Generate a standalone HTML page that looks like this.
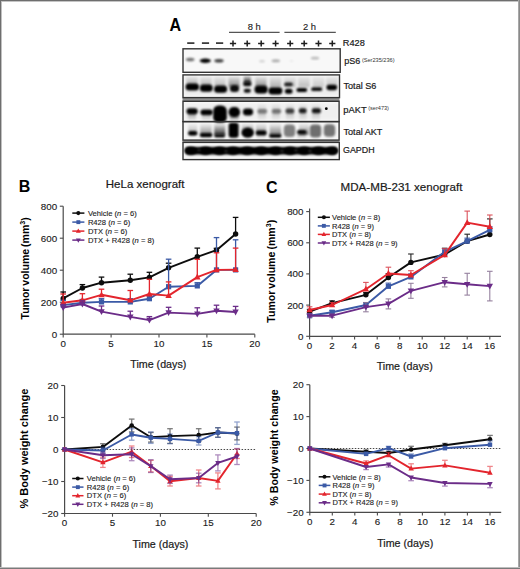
<!DOCTYPE html><html><head><meta charset="utf-8"><style>html,body{margin:0;padding:0;background:#fff;}svg{display:block;} text{stroke:#1a1a1a;stroke-width:0.2px;} text.b{stroke:none;} text.s{stroke-width:0.12px;}</style></head><body>
<svg width="520" height="569" viewBox="0 0 520 569">
<rect width="520" height="569" fill="#fff"/>
<defs><filter id="bl" x="-50%" y="-50%" width="200%" height="200%"><feGaussianBlur stdDeviation="1.0"/></filter><filter id="bl2" x="-50%" y="-50%" width="200%" height="200%"><feGaussianBlur stdDeviation="1.6"/></filter></defs>
<text transform="translate(169.6,30.9) scale(0.88,1)" font-size="18.3" font-weight="bold" class="b" fill="#000" font-family="'Liberation Sans', sans-serif">A</text>
<text class="s" x="254.3" y="30.2" font-size="9.4" text-anchor="middle" fill="#1a1a1a" font-family="'Liberation Sans', sans-serif">8 h</text>
<text class="s" x="309.5" y="30.2" font-size="9.4" text-anchor="middle" fill="#1a1a1a" font-family="'Liberation Sans', sans-serif">2 h</text>
<line x1="229" y1="32.3" x2="279.6" y2="32.3" stroke="#555" stroke-width="1.2"/>
<line x1="284.4" y1="32.3" x2="335.8" y2="32.3" stroke="#555" stroke-width="1.2"/>
<line x1="187.20000000000002" y1="43.1" x2="194.4" y2="43.1" stroke="#262626" stroke-width="1.6"/>
<line x1="201.9" y1="43.1" x2="209.1" y2="43.1" stroke="#262626" stroke-width="1.6"/>
<line x1="216.0" y1="43.1" x2="223.2" y2="43.1" stroke="#262626" stroke-width="1.6"/>
<path d="M229.9,43.4 H236.1 M233,40.6 V46.4" stroke="#1e1e1e" stroke-width="1.5"/>
<path d="M244.1,43.4 H250.29999999999998 M247.2,40.6 V46.4" stroke="#1e1e1e" stroke-width="1.5"/>
<path d="M258.09999999999997,43.4 H264.3 M261.2,40.6 V46.4" stroke="#1e1e1e" stroke-width="1.5"/>
<path d="M272.5,43.4 H278.70000000000005 M275.6,40.6 V46.4" stroke="#1e1e1e" stroke-width="1.5"/>
<path d="M287.09999999999997,43.4 H293.3 M290.2,40.6 V46.4" stroke="#1e1e1e" stroke-width="1.5"/>
<path d="M301.09999999999997,43.4 H307.3 M304.2,40.6 V46.4" stroke="#1e1e1e" stroke-width="1.5"/>
<path d="M315.4,43.4 H321.6 M318.5,40.6 V46.4" stroke="#1e1e1e" stroke-width="1.5"/>
<path d="M329.2,43.4 H335.40000000000003 M332.3,40.6 V46.4" stroke="#1e1e1e" stroke-width="1.5"/>
<text x="342.8" y="46.4" font-size="9.2" fill="#1a1a1a" font-family="'Liberation Sans', sans-serif">R428</text>
<rect x="182.5" y="97.8" width="157" height="3.2" fill="#8f8f8f"/>
<rect x="182.5" y="140.2" width="157" height="2.4" fill="#9a9a9a"/>
<rect x="183" y="48.8" width="157.2" height="23.5" fill="#f8f8f8"/>
<rect x="183" y="74.9" width="156.5" height="22.69999999999999" fill="#fafafa"/>
<rect x="183" y="101.3" width="156.10000000000002" height="20.299999999999997" fill="#fafafa"/>
<rect x="183" y="121.6" width="156.10000000000002" height="18.5" fill="#f6f6f6"/>
<rect x="183" y="142.4" width="156.3" height="17.19999999999999" fill="#f7f7f7"/>
<defs><linearGradient id="gd" x1="0" y1="0" x2="0" y2="1"><stop offset="0" stop-color="#000" stop-opacity="0"/><stop offset="1" stop-color="#000" stop-opacity="1"/></linearGradient><linearGradient id="gu" x1="0" y1="0" x2="0" y2="1"><stop offset="0" stop-color="#000" stop-opacity="1"/><stop offset="1" stop-color="#000" stop-opacity="0"/></linearGradient></defs>
<ellipse cx="190.2" cy="59.5" rx="4.3" ry="1.8" fill="#000" opacity="0.55" filter="url(#bl)"/>
<ellipse cx="205.3" cy="60.8" rx="5.6" ry="2.2" fill="#000" opacity="1.0" filter="url(#bl)"/>
<ellipse cx="219.0" cy="60.8" rx="4.7" ry="1.8" fill="#000" opacity="0.75" filter="url(#bl)"/>
<ellipse cx="262.0" cy="61.2" rx="3.0" ry="1.3" fill="#000" opacity="0.15" filter="url(#bl)"/>
<ellipse cx="275.8" cy="60.8" rx="4.2" ry="1.5" fill="#000" opacity="0.3" filter="url(#bl)"/>
<ellipse cx="291.5" cy="61.0" rx="2.0" ry="1.0" fill="#000" opacity="0.06" filter="url(#bl)"/>
<ellipse cx="315.0" cy="58.2" rx="4.2" ry="1.4" fill="#000" opacity="0.25" filter="url(#bl)"/>
<rect x="184" y="76" width="155" height="20" fill="#000" opacity="0.05" filter="url(#bl2)"/>
<rect x="186.5" y="75.5" width="11.0" height="11.5" fill="url(#gd)" opacity="0.3" filter="url(#bl)"/>
<rect x="200.5" y="75.5" width="11.0" height="11.5" fill="url(#gd)" opacity="0.25" filter="url(#bl)"/>
<rect x="214.5" y="75.5" width="11.0" height="11.5" fill="url(#gd)" opacity="0.22" filter="url(#bl)"/>
<rect x="228.5" y="75.5" width="11.0" height="11.5" fill="url(#gd)" opacity="0.45" filter="url(#bl)"/>
<rect x="255.5" y="75.5" width="11.0" height="11.5" fill="url(#gd)" opacity="0.4" filter="url(#bl)"/>
<rect x="270.0" y="75.5" width="11.0" height="11.5" fill="url(#gd)" opacity="0.25" filter="url(#bl)"/>
<rect x="284.5" y="75.5" width="11.0" height="11.5" fill="url(#gd)" opacity="0.2" filter="url(#bl)"/>
<rect x="298.5" y="75.5" width="11.0" height="11.5" fill="url(#gd)" opacity="0.2" filter="url(#bl)"/>
<rect x="313.0" y="75.5" width="11.0" height="11.5" fill="url(#gd)" opacity="0.15" filter="url(#bl)"/>
<rect x="326.5" y="75.5" width="11.0" height="11.5" fill="url(#gd)" opacity="0.18" filter="url(#bl)"/>
<rect x="185.6" y="83.4" width="13.4" height="7.0" rx="3.5" fill="#000" opacity="1" filter="url(#bl)"/>
<rect x="199.9" y="84.6" width="12.8" height="7.2" rx="3.6" fill="#000" opacity="1" filter="url(#bl)"/>
<rect x="214.1" y="85.6" width="13.0" height="7.2" rx="3.6" fill="#000" opacity="1" filter="url(#bl)"/>
<rect x="229.9" y="85.1" width="9.2" height="7.0" rx="3.5" fill="#000" opacity="0.95" filter="url(#bl)"/>
<rect x="243.8" y="75.0" width="7.0" height="8.0" fill="url(#gd)" opacity="0.85" filter="url(#bl)"/>
<rect x="243.1" y="81.8" width="8.4" height="4.4" rx="2.2" fill="#000" opacity="0.95" filter="url(#bl)"/>
<rect x="243.8" y="88.8" width="7.0" height="4.0" rx="2.0" fill="#000" opacity="0.95" filter="url(#bl)"/>
<rect x="254.5" y="85.6" width="13.2" height="8.0" rx="4.0" fill="#000" opacity="1" filter="url(#bl)"/>
<rect x="268.4" y="87.2" width="14.0" height="7.2" rx="3.6" fill="#000" opacity="1" filter="url(#bl)"/>
<rect x="284.2" y="82.4" width="8.6" height="3.8" rx="1.9" fill="#000" opacity="0.85" filter="url(#bl)"/>
<rect x="284.9" y="88.8" width="7.6" height="5.0" rx="2.5" fill="#000" opacity="1" filter="url(#bl)"/>
<rect x="296.4" y="87.9" width="10.8" height="4.2" rx="2.1" fill="#000" opacity="1" filter="url(#bl)"/>
<rect x="311.2" y="87.3" width="11.0" height="3.8" rx="1.9" fill="#000" opacity="0.95" filter="url(#bl)"/>
<rect x="326.5" y="84.7" width="10.6" height="5.6" rx="2.8" fill="#000" opacity="1" filter="url(#bl)"/>
<rect x="184" y="103" width="155" height="17" fill="#000" opacity="0.04" filter="url(#bl2)"/>
<rect x="188.0" y="112.0" width="8.0" height="9.0" fill="url(#gu)" opacity="0.4" filter="url(#bl)"/>
<rect x="202.0" y="112.0" width="9.0" height="9.0" fill="url(#gu)" opacity="0.35" filter="url(#bl)"/>
<rect x="230.3" y="112.0" width="8.0" height="9.0" fill="url(#gu)" opacity="0.35" filter="url(#bl)"/>
<rect x="258.0" y="112.0" width="8.0" height="9.0" fill="url(#gu)" opacity="0.18" filter="url(#bl)"/>
<rect x="272.0" y="112.0" width="8.0" height="9.0" fill="url(#gu)" opacity="0.18" filter="url(#bl)"/>
<rect x="286.0" y="112.0" width="8.0" height="9.0" fill="url(#gu)" opacity="0.2" filter="url(#bl)"/>
<rect x="299.5" y="112.0" width="7.0" height="9.0" fill="url(#gu)" opacity="0.2" filter="url(#bl)"/>
<rect x="312.0" y="112.0" width="8.0" height="9.0" fill="url(#gu)" opacity="0.2" filter="url(#bl)"/>
<rect x="258.0" y="103.0" width="8.0" height="8.0" fill="url(#gd)" opacity="0.12" filter="url(#bl)"/>
<rect x="272.0" y="103.0" width="8.0" height="8.0" fill="url(#gd)" opacity="0.12" filter="url(#bl)"/>
<rect x="286.0" y="103.0" width="8.0" height="8.0" fill="url(#gd)" opacity="0.12" filter="url(#bl)"/>
<rect x="299.0" y="103.0" width="8.0" height="8.0" fill="url(#gd)" opacity="0.12" filter="url(#bl)"/>
<rect x="312.0" y="103.0" width="8.0" height="8.0" fill="url(#gd)" opacity="0.12" filter="url(#bl)"/>
<rect x="186.5" y="108.3" width="11.2" height="6.0" rx="3.0" fill="#000" opacity="1" filter="url(#bl)"/>
<rect x="200.5" y="109.5" width="12.2" height="5.6" rx="2.8" fill="#000" opacity="1" filter="url(#bl)"/>
<rect x="213.2" y="105.5" width="13.6" height="17.0" rx="5.5" fill="#000" opacity="1" filter="url(#bl)"/>
<rect x="214.5" y="117.0" width="11.0" height="6.5" fill="url(#gu)" opacity="0.6" filter="url(#bl)"/>
<rect x="229.8" y="115.0" width="9.0" height="6.5" fill="url(#gu)" opacity="0.35" filter="url(#bl)"/>
<rect x="228.5" y="106.9" width="11.6" height="10.2" rx="5.1" fill="#000" opacity="1" filter="url(#bl)"/>
<rect x="242.9" y="108.6" width="10.2" height="6.8" rx="3.4" fill="#000" opacity="1" filter="url(#bl)"/>
<rect x="257.4" y="108.9" width="9.8" height="4.6" rx="2.3" fill="#000" opacity="0.45" filter="url(#bl)"/>
<rect x="271.8" y="108.9" width="9.4" height="4.6" rx="2.3" fill="#000" opacity="0.48" filter="url(#bl)"/>
<rect x="285.5" y="108.5" width="8.8" height="5.0" rx="2.5" fill="#000" opacity="0.72" filter="url(#bl)"/>
<rect x="298.8" y="108.3" width="7.8" height="5.0" rx="2.5" fill="#000" opacity="0.87" filter="url(#bl)"/>
<rect x="311.8" y="108.3" width="9.2" height="5.0" rx="2.5" fill="#000" opacity="0.9" filter="url(#bl)"/>
<circle cx="326.3" cy="108.7" r="1.4" fill="#000"/>
<rect x="188.2" y="123.0" width="9.0" height="12.0" fill="url(#gd)" opacity="0.3" filter="url(#bl)"/>
<rect x="200.2" y="123.0" width="11.5" height="12.0" fill="url(#gd)" opacity="0.45" filter="url(#bl)"/>
<rect x="214.2" y="123.0" width="11.0" height="12.0" fill="url(#gd)" opacity="0.8" filter="url(#bl)"/>
<rect x="241.9" y="123.0" width="11.5" height="12.0" fill="url(#gd)" opacity="0.55" filter="url(#bl)"/>
<rect x="255.9" y="123.0" width="10.5" height="12.0" fill="url(#gd)" opacity="0.45" filter="url(#bl)"/>
<rect x="269.6" y="123.0" width="11.5" height="12.0" fill="url(#gd)" opacity="0.5" filter="url(#bl)"/>
<rect x="299.0" y="123.0" width="10.0" height="12.0" fill="url(#gd)" opacity="0.45" filter="url(#bl)"/>
<rect x="188.2" y="131.0" width="9.0" height="4.6" rx="2.3" fill="#000" opacity="1" filter="url(#bl)"/>
<rect x="199.9" y="133.1" width="12.4" height="4.2" rx="2.1" fill="#000" opacity="1" filter="url(#bl)"/>
<rect x="214.2" y="134.0" width="11.0" height="3.6" rx="1.8" fill="#000" opacity="0.95" filter="url(#bl)"/>
<rect x="228.6" y="122.7" width="10.0" height="15.0" rx="3.0" fill="#000" opacity="1" filter="url(#bl)"/>
<ellipse cx="247.7" cy="132.6" rx="6.0" ry="5.2" fill="#000" opacity="1" filter="url(#bl)"/>
<rect x="255.9" y="130.6" width="10.6" height="4.4" rx="2.2" fill="#000" opacity="1" filter="url(#bl)"/>
<rect x="269.1" y="133.9" width="12.4" height="3.8" rx="1.9" fill="#000" opacity="1" filter="url(#bl)"/>
<rect x="283.8" y="124.6" width="11.4" height="12.5" rx="4.0" fill="#000" opacity="0.48" filter="url(#bl)"/>
<rect x="297.0" y="130.1" width="9.6" height="4.2" rx="2.1" fill="#000" opacity="0.95" filter="url(#bl)"/>
<rect x="309.8" y="124.5" width="11.4" height="13.0" rx="4.0" fill="#000" opacity="0.55" filter="url(#bl)"/>
<rect x="323.8" y="124.3" width="11.4" height="12.5" rx="4.0" fill="#000" opacity="0.52" filter="url(#bl)"/>
<rect x="256.7" y="134.0" width="9.0" height="5.0" fill="url(#gu)" opacity="0.3" filter="url(#bl)"/>
<rect x="297.3" y="134.0" width="9.0" height="5.0" fill="url(#gu)" opacity="0.3" filter="url(#bl)"/>
<rect x="185.3" y="147.0" width="151.5" height="7.4" rx="3.2" fill="#000" filter="url(#bl)"/>
<ellipse cx="190.8" cy="150.7" rx="6.2" ry="4.0" fill="#000" opacity="1" filter="url(#bl)"/>
<ellipse cx="205.5" cy="150.7" rx="6.2" ry="4.0" fill="#000" opacity="1" filter="url(#bl)"/>
<ellipse cx="219.6" cy="150.7" rx="6.2" ry="4.0" fill="#000" opacity="1" filter="url(#bl)"/>
<ellipse cx="233.0" cy="150.7" rx="6.2" ry="4.0" fill="#000" opacity="1" filter="url(#bl)"/>
<ellipse cx="247.2" cy="150.7" rx="6.2" ry="4.0" fill="#000" opacity="1" filter="url(#bl)"/>
<ellipse cx="261.2" cy="150.7" rx="6.2" ry="4.0" fill="#000" opacity="1" filter="url(#bl)"/>
<ellipse cx="275.6" cy="150.7" rx="6.2" ry="4.0" fill="#000" opacity="1" filter="url(#bl)"/>
<ellipse cx="290.2" cy="150.7" rx="6.2" ry="4.0" fill="#000" opacity="1" filter="url(#bl)"/>
<ellipse cx="304.2" cy="150.7" rx="6.2" ry="4.0" fill="#000" opacity="1" filter="url(#bl)"/>
<ellipse cx="318.5" cy="150.7" rx="6.2" ry="4.0" fill="#000" opacity="1" filter="url(#bl)"/>
<ellipse cx="332.3" cy="150.7" rx="6.2" ry="4.0" fill="#000" opacity="1" filter="url(#bl)"/>
<ellipse cx="199" cy="150.1" rx="1.6" ry="0.9" fill="#fff" opacity="0.25" filter="url(#bl)"/>
<ellipse cx="226" cy="151.1" rx="1.6" ry="0.9" fill="#fff" opacity="0.25" filter="url(#bl)"/>
<ellipse cx="282" cy="150.9" rx="1.6" ry="0.9" fill="#fff" opacity="0.25" filter="url(#bl)"/>
<ellipse cx="296" cy="150.3" rx="1.6" ry="0.9" fill="#fff" opacity="0.25" filter="url(#bl)"/>
<ellipse cx="310" cy="151.0" rx="1.6" ry="0.9" fill="#fff" opacity="0.25" filter="url(#bl)"/>
<rect x="183" y="48.8" width="157.2" height="23.5" fill="none" stroke="#333" stroke-width="1.4"/>
<rect x="183" y="74.9" width="156.5" height="22.69999999999999" fill="none" stroke="#333" stroke-width="1.4"/>
<rect x="183" y="101.3" width="156.10000000000002" height="20.299999999999997" fill="none" stroke="#333" stroke-width="1.4"/>
<rect x="183" y="121.6" width="156.10000000000002" height="18.5" fill="none" stroke="#333" stroke-width="1.4"/>
<rect x="183" y="142.4" width="156.3" height="17.19999999999999" fill="none" stroke="#333" stroke-width="1.4"/>
<text x="344.3" y="64.3" font-size="9.0" fill="#1a1a1a" font-family="'Liberation Sans', sans-serif">pS6<tspan font-size="5.6" dy="-2.2" dx="1.6" style="stroke:none" fill="#333">(Ser235/236)</tspan></text>
<text x="343.5" y="88.8" font-size="9.1" fill="#1a1a1a" font-family="'Liberation Sans', sans-serif">Total S6</text>
<text x="343.2" y="112.9" font-size="9.4" fill="#1a1a1a" font-family="'Liberation Sans', sans-serif">pAKT<tspan font-size="5.6" dy="-2.6" dx="1.5" style="stroke:none" fill="#333">(ser473)</tspan></text>
<text x="343.5" y="135" font-size="9.1" fill="#1a1a1a" font-family="'Liberation Sans', sans-serif">Total AKT</text>
<text x="343" y="153.1" font-size="8.9" fill="#1a1a1a" font-family="'Liberation Sans', sans-serif">GAPDH</text>
<text x="18.8" y="192.3" font-size="16" font-weight="bold" class="b" fill="#000" font-family="'Liberation Sans', sans-serif">B</text>
<text x="266" y="193" font-size="16" font-weight="bold" class="b" fill="#000" font-family="'Liberation Sans', sans-serif">C</text>
<text x="105.8" y="188.4" font-size="11.5" fill="#1a1a1a" font-family="'Liberation Sans', sans-serif">HeLa xenograft</text>
<text x="340.6" y="190.8" font-size="11.6" fill="#1a1a1a" font-family="'Liberation Sans', sans-serif">MDA-MB-231 xenograft</text>
<text transform="translate(29,268.4) rotate(-90)" font-size="10.5" font-weight="bold" class="b" word-spacing="-1" text-anchor="middle" fill="#000" font-family="'Liberation Sans', sans-serif">Tumor volume (mm<tspan font-size="7" dy="-4">3</tspan><tspan dy="4">)</tspan></text>
<text transform="translate(27.7,448.6) rotate(-90)" font-size="11" font-weight="bold" class="b" word-spacing="0" text-anchor="middle" fill="#000" font-family="'Liberation Sans', sans-serif">% Body weight change</text>
<text transform="translate(274.8,271.3) rotate(-90)" font-size="10.6" font-weight="bold" class="b" word-spacing="-1" text-anchor="middle" fill="#000" font-family="'Liberation Sans', sans-serif">Tumor volume (mm<tspan font-size="7" dy="-4">3</tspan><tspan dy="4">)</tspan></text>
<text transform="translate(278.3,447.6) rotate(-90)" font-size="10.7" font-weight="bold" class="b" word-spacing="0" text-anchor="middle" fill="#000" font-family="'Liberation Sans', sans-serif">% Body weight change</text>
<text x="158.3" y="367.8" font-size="10.7" text-anchor="middle" fill="#1a1a1a" font-family="'Liberation Sans', sans-serif">Time (days)</text>
<text x="160.4" y="547.5" font-size="10.7" text-anchor="middle" fill="#1a1a1a" font-family="'Liberation Sans', sans-serif">Time (days)</text>
<text x="404.7" y="370.2" font-size="10.7" text-anchor="middle" fill="#1a1a1a" font-family="'Liberation Sans', sans-serif">Time (days)</text>
<text x="405.2" y="546.5" font-size="10.7" text-anchor="middle" fill="#1a1a1a" font-family="'Liberation Sans', sans-serif">Time (days)</text>
<path d="M63.2,206.2 V334.2 H254.8" fill="none" stroke="#4a4a4a" stroke-width="1.2"/>
<line x1="59.8" y1="334.2" x2="63.2" y2="334.2" stroke="#4a4a4a" stroke-width="1.1"/>
<text class="s" x="57.1" y="337.7" font-size="9.8" text-anchor="end" fill="#1a1a1a" font-family="'Liberation Sans', sans-serif">0</text>
<line x1="59.8" y1="302.2" x2="63.2" y2="302.2" stroke="#4a4a4a" stroke-width="1.1"/>
<text class="s" x="57.1" y="305.7" font-size="9.8" text-anchor="end" fill="#1a1a1a" font-family="'Liberation Sans', sans-serif">200</text>
<line x1="59.8" y1="270.2" x2="63.2" y2="270.2" stroke="#4a4a4a" stroke-width="1.1"/>
<text class="s" x="57.1" y="273.7" font-size="9.8" text-anchor="end" fill="#1a1a1a" font-family="'Liberation Sans', sans-serif">400</text>
<line x1="59.8" y1="238.2" x2="63.2" y2="238.2" stroke="#4a4a4a" stroke-width="1.1"/>
<text class="s" x="57.1" y="241.7" font-size="9.8" text-anchor="end" fill="#1a1a1a" font-family="'Liberation Sans', sans-serif">600</text>
<line x1="59.8" y1="206.2" x2="63.2" y2="206.2" stroke="#4a4a4a" stroke-width="1.1"/>
<text class="s" x="57.1" y="209.7" font-size="9.8" text-anchor="end" fill="#1a1a1a" font-family="'Liberation Sans', sans-serif">800</text>
<line x1="63.2" y1="334.2" x2="63.2" y2="337.4" stroke="#4a4a4a" stroke-width="1.1"/>
<text class="s" x="63.2" y="346.8" font-size="9.8" text-anchor="middle" fill="#1a1a1a" font-family="'Liberation Sans', sans-serif">0</text>
<line x1="111.1" y1="334.2" x2="111.1" y2="337.4" stroke="#4a4a4a" stroke-width="1.1"/>
<text class="s" x="111.1" y="346.8" font-size="9.8" text-anchor="middle" fill="#1a1a1a" font-family="'Liberation Sans', sans-serif">5</text>
<line x1="159.0" y1="334.2" x2="159.0" y2="337.4" stroke="#4a4a4a" stroke-width="1.1"/>
<text class="s" x="159.0" y="346.8" font-size="9.8" text-anchor="middle" fill="#1a1a1a" font-family="'Liberation Sans', sans-serif">10</text>
<line x1="206.9" y1="334.2" x2="206.9" y2="337.4" stroke="#4a4a4a" stroke-width="1.1"/>
<text class="s" x="206.9" y="346.8" font-size="9.8" text-anchor="middle" fill="#1a1a1a" font-family="'Liberation Sans', sans-serif">15</text>
<line x1="254.8" y1="334.2" x2="254.8" y2="337.4" stroke="#4a4a4a" stroke-width="1.1"/>
<text class="s" x="254.8" y="346.8" font-size="9.8" text-anchor="middle" fill="#1a1a1a" font-family="'Liberation Sans', sans-serif">20</text>
<polyline points="63.2,298.4 82.4,288.0 101.5,282.7 130.3,280.3 149.4,277.4 168.6,267.8 197.3,256.8 216.5,250.2 235.6,234.0" fill="none" stroke="#0d0d0d" stroke-width="1.9" stroke-linejoin="round"/>
<g stroke="#0d0d0d" stroke-width="1.3" opacity="1"><line x1="63.2" y1="298.4" x2="63.2" y2="292.0"/><line x1="60.4" y1="292.0" x2="66.0" y2="292.0"/></g>
<g stroke="#0d0d0d" stroke-width="1.3" opacity="1"><line x1="82.4" y1="288.0" x2="82.4" y2="284.6"/><line x1="79.6" y1="284.6" x2="85.2" y2="284.6"/></g>
<g stroke="#0d0d0d" stroke-width="1.3" opacity="1"><line x1="101.5" y1="282.7" x2="101.5" y2="277.1"/><line x1="98.7" y1="277.1" x2="104.3" y2="277.1"/></g>
<g stroke="#0d0d0d" stroke-width="1.3" opacity="1"><line x1="130.3" y1="280.3" x2="130.3" y2="274.2"/><line x1="127.5" y1="274.2" x2="133.1" y2="274.2"/></g>
<g stroke="#0d0d0d" stroke-width="1.3" opacity="1"><line x1="149.4" y1="277.4" x2="149.4" y2="272.3"/><line x1="146.6" y1="272.3" x2="152.2" y2="272.3"/></g>
<g stroke="#0d0d0d" stroke-width="1.3" opacity="1"><line x1="168.6" y1="267.8" x2="168.6" y2="263.2"/><line x1="165.8" y1="263.2" x2="171.4" y2="263.2"/></g>
<g stroke="#0d0d0d" stroke-width="1.3" opacity="1"><line x1="197.3" y1="256.8" x2="197.3" y2="248.1"/><line x1="194.5" y1="248.1" x2="200.1" y2="248.1"/></g>
<g stroke="#0d0d0d" stroke-width="1.3" opacity="1"><line x1="216.5" y1="250.2" x2="216.5" y2="248.3"/><line x1="213.7" y1="248.3" x2="219.3" y2="248.3"/></g>
<g stroke="#0d0d0d" stroke-width="1.3" opacity="1"><line x1="235.6" y1="234.0" x2="235.6" y2="217.4"/><line x1="232.8" y1="217.4" x2="238.4" y2="217.4"/></g>
<circle cx="63.2" cy="298.4" r="2.70" fill="#0d0d0d"/>
<circle cx="82.4" cy="288.0" r="2.70" fill="#0d0d0d"/>
<circle cx="101.5" cy="282.7" r="2.70" fill="#0d0d0d"/>
<circle cx="130.3" cy="280.3" r="2.70" fill="#0d0d0d"/>
<circle cx="149.4" cy="277.4" r="2.70" fill="#0d0d0d"/>
<circle cx="168.6" cy="267.8" r="2.70" fill="#0d0d0d"/>
<circle cx="197.3" cy="256.8" r="2.70" fill="#0d0d0d"/>
<circle cx="216.5" cy="250.2" r="2.70" fill="#0d0d0d"/>
<circle cx="235.6" cy="234.0" r="2.70" fill="#0d0d0d"/>
<polyline points="63.2,305.1 82.4,302.7 101.5,301.9 130.3,301.9 149.4,298.7 168.6,286.7 197.3,285.9 216.5,269.9 235.6,269.9" fill="none" stroke="#3b5aa6" stroke-width="1.9" stroke-linejoin="round"/>
<g stroke="#3b5aa6" stroke-width="1.3" opacity="1"><line x1="63.2" y1="305.1" x2="63.2" y2="300.3"/><line x1="60.4" y1="300.3" x2="66.0" y2="300.3"/></g>
<g stroke="#3b5aa6" stroke-width="1.3" opacity="1"><line x1="82.4" y1="302.7" x2="82.4" y2="299.5"/><line x1="79.6" y1="299.5" x2="85.2" y2="299.5"/></g>
<g stroke="#3b5aa6" stroke-width="1.3" opacity="1"><line x1="101.5" y1="301.9" x2="101.5" y2="298.7"/><line x1="98.7" y1="298.7" x2="104.3" y2="298.7"/></g>
<g stroke="#3b5aa6" stroke-width="1.3" opacity="1"><line x1="130.3" y1="301.9" x2="130.3" y2="298.7"/><line x1="127.5" y1="298.7" x2="133.1" y2="298.7"/></g>
<g stroke="#3b5aa6" stroke-width="1.3" opacity="1"><line x1="149.4" y1="298.7" x2="149.4" y2="295.5"/><line x1="146.6" y1="295.5" x2="152.2" y2="295.5"/></g>
<g stroke="#3b5aa6" stroke-width="1.3" opacity="1"><line x1="168.6" y1="286.7" x2="168.6" y2="259.2"/><line x1="165.8" y1="259.2" x2="171.4" y2="259.2"/></g>
<g stroke="#3b5aa6" stroke-width="1.3" opacity="1"><line x1="197.3" y1="285.9" x2="197.3" y2="282.7"/><line x1="194.5" y1="282.7" x2="200.1" y2="282.7"/></g>
<g stroke="#3b5aa6" stroke-width="1.3" opacity="1"><line x1="216.5" y1="269.9" x2="216.5" y2="237.6"/><line x1="213.7" y1="237.6" x2="219.3" y2="237.6"/></g>
<g stroke="#3b5aa6" stroke-width="1.3" opacity="1"><line x1="235.6" y1="269.9" x2="235.6" y2="239.8"/><line x1="232.8" y1="239.8" x2="238.4" y2="239.8"/></g>
<rect x="60.6" y="302.5" width="5.2" height="5.2" fill="#3b5aa6"/>
<rect x="79.8" y="300.1" width="5.2" height="5.2" fill="#3b5aa6"/>
<rect x="98.9" y="299.3" width="5.2" height="5.2" fill="#3b5aa6"/>
<rect x="127.7" y="299.3" width="5.2" height="5.2" fill="#3b5aa6"/>
<rect x="146.8" y="296.1" width="5.2" height="5.2" fill="#3b5aa6"/>
<rect x="166.0" y="284.1" width="5.2" height="5.2" fill="#3b5aa6"/>
<rect x="194.7" y="283.3" width="5.2" height="5.2" fill="#3b5aa6"/>
<rect x="213.9" y="267.3" width="5.2" height="5.2" fill="#3b5aa6"/>
<rect x="233.0" y="267.3" width="5.2" height="5.2" fill="#3b5aa6"/>
<polyline points="63.2,302.7 82.4,300.3 101.5,294.8 130.3,300.3 149.4,294.0 168.6,295.6 197.3,277.1 216.5,269.9 235.6,269.6" fill="none" stroke="#e3252d" stroke-width="1.9" stroke-linejoin="round"/>
<g stroke="#e3252d" stroke-width="1.3" opacity="1"><line x1="63.2" y1="302.7" x2="63.2" y2="294.0"/><line x1="60.4" y1="294.0" x2="66.0" y2="294.0"/></g>
<g stroke="#e3252d" stroke-width="1.3" opacity="1"><line x1="82.4" y1="300.3" x2="82.4" y2="293.7"/><line x1="79.6" y1="293.7" x2="85.2" y2="293.7"/></g>
<g stroke="#e3252d" stroke-width="1.3" opacity="1"><line x1="101.5" y1="294.8" x2="101.5" y2="289.2"/><line x1="98.7" y1="289.2" x2="104.3" y2="289.2"/></g>
<g stroke="#e3252d" stroke-width="1.3" opacity="1"><line x1="130.3" y1="300.3" x2="130.3" y2="290.5"/><line x1="127.5" y1="290.5" x2="133.1" y2="290.5"/></g>
<g stroke="#e3252d" stroke-width="1.3" opacity="1"><line x1="149.4" y1="294.0" x2="149.4" y2="279.3"/><line x1="146.6" y1="279.3" x2="152.2" y2="279.3"/></g>
<g stroke="#e3252d" stroke-width="1.3" opacity="1"><line x1="168.6" y1="295.6" x2="168.6" y2="281.9"/><line x1="165.8" y1="281.9" x2="171.4" y2="281.9"/></g>
<g stroke="#e3252d" stroke-width="1.3" opacity="1"><line x1="197.3" y1="277.1" x2="197.3" y2="259.3"/><line x1="194.5" y1="259.3" x2="200.1" y2="259.3"/></g>
<g stroke="#e3252d" stroke-width="1.3" opacity="1"><line x1="216.5" y1="269.9" x2="216.5" y2="252.8"/><line x1="213.7" y1="252.8" x2="219.3" y2="252.8"/></g>
<g stroke="#e3252d" stroke-width="1.3" opacity="1"><line x1="235.6" y1="269.6" x2="235.6" y2="248.1"/><line x1="232.8" y1="248.1" x2="238.4" y2="248.1"/></g>
<polygon points="60.0,305.0 66.4,305.0 63.2,299.2" fill="#e3252d"/>
<polygon points="79.2,302.6 85.6,302.6 82.4,296.8" fill="#e3252d"/>
<polygon points="98.3,297.2 104.7,297.2 101.5,291.4" fill="#e3252d"/>
<polygon points="127.1,302.6 133.5,302.6 130.3,296.8" fill="#e3252d"/>
<polygon points="146.2,296.4 152.6,296.4 149.4,290.6" fill="#e3252d"/>
<polygon points="165.4,298.0 171.8,298.0 168.6,292.2" fill="#e3252d"/>
<polygon points="194.1,279.4 200.5,279.4 197.3,273.6" fill="#e3252d"/>
<polygon points="213.3,272.2 219.7,272.2 216.5,266.4" fill="#e3252d"/>
<polygon points="232.4,271.9 238.8,271.9 235.6,266.1" fill="#e3252d"/>
<polyline points="63.2,307.6 82.4,304.0 101.5,311.6 130.3,316.9 149.4,320.1 168.6,312.6 197.3,313.9 216.5,310.8 235.6,312.0" fill="none" stroke="#6b2c88" stroke-width="1.9" stroke-linejoin="round"/>
<g stroke="#6b2c88" stroke-width="1.3" opacity="1"><line x1="63.2" y1="307.6" x2="63.2" y2="304.4"/><line x1="60.4" y1="304.4" x2="66.0" y2="304.4"/></g>
<g stroke="#6b2c88" stroke-width="1.3" opacity="1"><line x1="82.4" y1="304.0" x2="82.4" y2="300.8"/><line x1="79.6" y1="300.8" x2="85.2" y2="300.8"/></g>
<g stroke="#6b2c88" stroke-width="1.3" opacity="1"><line x1="101.5" y1="311.6" x2="101.5" y2="306.0"/><line x1="98.7" y1="306.0" x2="104.3" y2="306.0"/></g>
<g stroke="#6b2c88" stroke-width="1.3" opacity="1"><line x1="130.3" y1="316.9" x2="130.3" y2="311.2"/><line x1="127.5" y1="311.2" x2="133.1" y2="311.2"/></g>
<g stroke="#6b2c88" stroke-width="1.3" opacity="1"><line x1="149.4" y1="320.1" x2="149.4" y2="316.6"/><line x1="146.6" y1="316.6" x2="152.2" y2="316.6"/></g>
<g stroke="#6b2c88" stroke-width="1.3" opacity="1"><line x1="168.6" y1="312.6" x2="168.6" y2="307.3"/><line x1="165.8" y1="307.3" x2="171.4" y2="307.3"/></g>
<g stroke="#6b2c88" stroke-width="1.3" opacity="1"><line x1="197.3" y1="313.9" x2="197.3" y2="307.8"/><line x1="194.5" y1="307.8" x2="200.1" y2="307.8"/></g>
<g stroke="#6b2c88" stroke-width="1.3" opacity="1"><line x1="216.5" y1="310.8" x2="216.5" y2="305.2"/><line x1="213.7" y1="305.2" x2="219.3" y2="305.2"/></g>
<g stroke="#6b2c88" stroke-width="1.3" opacity="1"><line x1="235.6" y1="312.0" x2="235.6" y2="306.4"/><line x1="232.8" y1="306.4" x2="238.4" y2="306.4"/></g>
<polygon points="60.0,305.3 66.4,305.3 63.2,311.1" fill="#6b2c88"/>
<polygon points="79.2,301.6 85.6,301.6 82.4,307.4" fill="#6b2c88"/>
<polygon points="98.3,309.3 104.7,309.3 101.5,315.1" fill="#6b2c88"/>
<polygon points="127.1,314.6 133.5,314.6 130.3,320.4" fill="#6b2c88"/>
<polygon points="146.2,317.8 152.6,317.8 149.4,323.6" fill="#6b2c88"/>
<polygon points="165.4,310.3 171.8,310.3 168.6,316.1" fill="#6b2c88"/>
<polygon points="194.1,311.6 200.5,311.6 197.3,317.4" fill="#6b2c88"/>
<polygon points="213.3,308.5 219.7,308.5 216.5,314.3" fill="#6b2c88"/>
<polygon points="232.4,309.6 238.8,309.6 235.6,315.4" fill="#6b2c88"/>
<line x1="72.3" y1="213.1" x2="84.4" y2="213.1" stroke="#0d0d0d" stroke-width="1.5"/>
<circle cx="78.3" cy="213.1" r="2.03" fill="#0d0d0d"/>
<text class="s" x="87.9" y="215.8" font-size="7.6" fill="#1a1a1a" font-family="'Liberation Sans', sans-serif">Vehicle (<tspan font-style="italic">n</tspan> = 6)</text>
<line x1="72.3" y1="222.1" x2="84.4" y2="222.1" stroke="#3b5aa6" stroke-width="1.5"/>
<rect x="76.4" y="220.2" width="3.9" height="3.9" fill="#3b5aa6"/>
<text class="s" x="87.9" y="224.8" font-size="7.6" fill="#1a1a1a" font-family="'Liberation Sans', sans-serif">R428 (<tspan font-style="italic">n</tspan> = 6)</text>
<line x1="72.3" y1="231.1" x2="84.4" y2="231.1" stroke="#e3252d" stroke-width="1.5"/>
<polygon points="75.9,232.8 80.8,232.8 78.3,228.5" fill="#e3252d"/>
<text class="s" x="87.9" y="233.8" font-size="7.6" fill="#1a1a1a" font-family="'Liberation Sans', sans-serif">DTX (<tspan font-style="italic">n</tspan> = 6)</text>
<line x1="72.3" y1="240.1" x2="84.4" y2="240.1" stroke="#6b2c88" stroke-width="1.5"/>
<polygon points="75.9,238.4 80.8,238.4 78.3,242.7" fill="#6b2c88"/>
<text class="s" x="87.9" y="242.8" font-size="7.6" fill="#1a1a1a" font-family="'Liberation Sans', sans-serif">DTX + R428 (<tspan font-style="italic">n</tspan> = 8)</text>
<path d="M64.6,385.5 V513.5 H256.2" fill="none" stroke="#4a4a4a" stroke-width="1.2"/>
<line x1="61.2" y1="513.5" x2="64.6" y2="513.5" stroke="#4a4a4a" stroke-width="1.1"/>
<text class="s" x="58.5" y="517.0" font-size="9.8" text-anchor="end" fill="#1a1a1a" font-family="'Liberation Sans', sans-serif">−20</text>
<line x1="61.2" y1="481.5" x2="64.6" y2="481.5" stroke="#4a4a4a" stroke-width="1.1"/>
<text class="s" x="58.5" y="485.0" font-size="9.8" text-anchor="end" fill="#1a1a1a" font-family="'Liberation Sans', sans-serif">−10</text>
<line x1="61.2" y1="449.5" x2="64.6" y2="449.5" stroke="#4a4a4a" stroke-width="1.1"/>
<text class="s" x="58.5" y="453.0" font-size="9.8" text-anchor="end" fill="#1a1a1a" font-family="'Liberation Sans', sans-serif">0</text>
<line x1="61.2" y1="417.5" x2="64.6" y2="417.5" stroke="#4a4a4a" stroke-width="1.1"/>
<text class="s" x="58.5" y="421.0" font-size="9.8" text-anchor="end" fill="#1a1a1a" font-family="'Liberation Sans', sans-serif">10</text>
<line x1="61.2" y1="385.5" x2="64.6" y2="385.5" stroke="#4a4a4a" stroke-width="1.1"/>
<text class="s" x="58.5" y="389.0" font-size="9.8" text-anchor="end" fill="#1a1a1a" font-family="'Liberation Sans', sans-serif">20</text>
<line x1="64.6" y1="513.5" x2="64.6" y2="516.7" stroke="#4a4a4a" stroke-width="1.1"/>
<text class="s" x="64.6" y="526.1" font-size="9.8" text-anchor="middle" fill="#1a1a1a" font-family="'Liberation Sans', sans-serif">0</text>
<line x1="112.5" y1="513.5" x2="112.5" y2="516.7" stroke="#4a4a4a" stroke-width="1.1"/>
<text class="s" x="112.5" y="526.1" font-size="9.8" text-anchor="middle" fill="#1a1a1a" font-family="'Liberation Sans', sans-serif">5</text>
<line x1="160.4" y1="513.5" x2="160.4" y2="516.7" stroke="#4a4a4a" stroke-width="1.1"/>
<text class="s" x="160.4" y="526.1" font-size="9.8" text-anchor="middle" fill="#1a1a1a" font-family="'Liberation Sans', sans-serif">10</text>
<line x1="208.3" y1="513.5" x2="208.3" y2="516.7" stroke="#4a4a4a" stroke-width="1.1"/>
<text class="s" x="208.3" y="526.1" font-size="9.8" text-anchor="middle" fill="#1a1a1a" font-family="'Liberation Sans', sans-serif">15</text>
<line x1="256.2" y1="513.5" x2="256.2" y2="516.7" stroke="#4a4a4a" stroke-width="1.1"/>
<text class="s" x="256.2" y="526.1" font-size="9.8" text-anchor="middle" fill="#1a1a1a" font-family="'Liberation Sans', sans-serif">20</text>
<line x1="64.6" y1="449.5" x2="256.2" y2="449.5" stroke="#333" stroke-width="0.9" stroke-dasharray="1.5,1.5"/>
<polyline points="64.6,449.5 102.9,446.9 131.7,425.5 150.8,437.3 170.0,436.1 198.7,435.1 217.9,432.5 237.0,433.5" fill="none" stroke="#0d0d0d" stroke-width="1.9" stroke-linejoin="round"/>
<g stroke="#0d0d0d" stroke-width="1.3" opacity="0.55"><line x1="102.9" y1="450.1" x2="102.9" y2="443.7"/><line x1="100.1" y1="443.7" x2="105.7" y2="443.7"/><line x1="100.1" y1="450.1" x2="105.7" y2="450.1"/></g>
<g stroke="#0d0d0d" stroke-width="1.3" opacity="0.55"><line x1="131.7" y1="431.9" x2="131.7" y2="419.1"/><line x1="128.9" y1="419.1" x2="134.5" y2="419.1"/><line x1="128.9" y1="431.9" x2="134.5" y2="431.9"/></g>
<g stroke="#0d0d0d" stroke-width="1.3" opacity="0.55"><line x1="150.8" y1="442.1" x2="150.8" y2="432.5"/><line x1="148.0" y1="432.5" x2="153.6" y2="432.5"/><line x1="148.0" y1="442.1" x2="153.6" y2="442.1"/></g>
<g stroke="#0d0d0d" stroke-width="1.3" opacity="0.55"><line x1="170.0" y1="443.4" x2="170.0" y2="428.7"/><line x1="167.2" y1="428.7" x2="172.8" y2="428.7"/><line x1="167.2" y1="443.4" x2="172.8" y2="443.4"/></g>
<g stroke="#0d0d0d" stroke-width="1.3" opacity="0.55"><line x1="198.7" y1="441.5" x2="198.7" y2="428.7"/><line x1="195.9" y1="428.7" x2="201.5" y2="428.7"/><line x1="195.9" y1="441.5" x2="201.5" y2="441.5"/></g>
<g stroke="#0d0d0d" stroke-width="1.3" opacity="0.55"><line x1="217.9" y1="437.3" x2="217.9" y2="427.7"/><line x1="215.1" y1="427.7" x2="220.7" y2="427.7"/><line x1="215.1" y1="437.3" x2="220.7" y2="437.3"/></g>
<g stroke="#0d0d0d" stroke-width="1.3" opacity="0.55"><line x1="237.0" y1="439.9" x2="237.0" y2="427.1"/><line x1="234.2" y1="427.1" x2="239.8" y2="427.1"/><line x1="234.2" y1="439.9" x2="239.8" y2="439.9"/></g>
<circle cx="64.6" cy="449.5" r="2.29" fill="#0d0d0d"/>
<circle cx="102.9" cy="446.9" r="2.29" fill="#0d0d0d"/>
<circle cx="131.7" cy="425.5" r="2.29" fill="#0d0d0d"/>
<circle cx="150.8" cy="437.3" r="2.29" fill="#0d0d0d"/>
<circle cx="170.0" cy="436.1" r="2.29" fill="#0d0d0d"/>
<circle cx="198.7" cy="435.1" r="2.29" fill="#0d0d0d"/>
<circle cx="217.9" cy="432.5" r="2.29" fill="#0d0d0d"/>
<circle cx="237.0" cy="433.5" r="2.29" fill="#0d0d0d"/>
<polyline points="64.6,449.5 102.9,450.5 131.7,434.5 150.8,437.7 170.0,438.9 198.7,440.9 217.9,432.5 237.0,433.2" fill="none" stroke="#3b5aa6" stroke-width="1.9" stroke-linejoin="round"/>
<g stroke="#3b5aa6" stroke-width="1.3" opacity="0.55"><line x1="102.9" y1="453.7" x2="102.9" y2="447.3"/><line x1="100.1" y1="447.3" x2="105.7" y2="447.3"/><line x1="100.1" y1="453.7" x2="105.7" y2="453.7"/></g>
<g stroke="#3b5aa6" stroke-width="1.3" opacity="0.55"><line x1="131.7" y1="440.2" x2="131.7" y2="428.7"/><line x1="128.9" y1="428.7" x2="134.5" y2="428.7"/><line x1="128.9" y1="440.2" x2="134.5" y2="440.2"/></g>
<g stroke="#3b5aa6" stroke-width="1.3" opacity="0.55"><line x1="150.8" y1="443.4" x2="150.8" y2="431.9"/><line x1="148.0" y1="431.9" x2="153.6" y2="431.9"/><line x1="148.0" y1="443.4" x2="153.6" y2="443.4"/></g>
<g stroke="#3b5aa6" stroke-width="1.3" opacity="0.55"><line x1="170.0" y1="443.7" x2="170.0" y2="434.1"/><line x1="167.2" y1="434.1" x2="172.8" y2="434.1"/><line x1="167.2" y1="443.7" x2="172.8" y2="443.7"/></g>
<g stroke="#3b5aa6" stroke-width="1.3" opacity="0.55"><line x1="198.7" y1="445.0" x2="198.7" y2="436.7"/><line x1="195.9" y1="436.7" x2="201.5" y2="436.7"/><line x1="195.9" y1="445.0" x2="201.5" y2="445.0"/></g>
<g stroke="#3b5aa6" stroke-width="1.3" opacity="0.55"><line x1="217.9" y1="437.3" x2="217.9" y2="427.7"/><line x1="215.1" y1="427.7" x2="220.7" y2="427.7"/><line x1="215.1" y1="437.3" x2="220.7" y2="437.3"/></g>
<g stroke="#3b5aa6" stroke-width="1.3" opacity="0.55"><line x1="237.0" y1="444.4" x2="237.0" y2="422.0"/><line x1="234.2" y1="422.0" x2="239.8" y2="422.0"/><line x1="234.2" y1="444.4" x2="239.8" y2="444.4"/></g>
<rect x="62.4" y="447.3" width="4.4" height="4.4" fill="#3b5aa6"/>
<rect x="100.7" y="448.2" width="4.4" height="4.4" fill="#3b5aa6"/>
<rect x="129.4" y="432.2" width="4.4" height="4.4" fill="#3b5aa6"/>
<rect x="148.6" y="435.4" width="4.4" height="4.4" fill="#3b5aa6"/>
<rect x="167.8" y="436.7" width="4.4" height="4.4" fill="#3b5aa6"/>
<rect x="196.5" y="438.7" width="4.4" height="4.4" fill="#3b5aa6"/>
<rect x="215.7" y="430.3" width="4.4" height="4.4" fill="#3b5aa6"/>
<rect x="234.8" y="431.0" width="4.4" height="4.4" fill="#3b5aa6"/>
<polyline points="64.6,449.5 102.9,462.3 131.7,451.7 150.8,466.1 170.0,481.2 198.7,478.0 217.9,480.9 237.0,453.7" fill="none" stroke="#e3252d" stroke-width="1.9" stroke-linejoin="round"/>
<g stroke="#e3252d" stroke-width="1.3" opacity="0.55"><line x1="102.9" y1="467.4" x2="102.9" y2="457.2"/><line x1="100.1" y1="457.2" x2="105.7" y2="457.2"/><line x1="100.1" y1="467.4" x2="105.7" y2="467.4"/></g>
<g stroke="#e3252d" stroke-width="1.3" opacity="0.55"><line x1="131.7" y1="457.5" x2="131.7" y2="446.0"/><line x1="128.9" y1="446.0" x2="134.5" y2="446.0"/><line x1="128.9" y1="457.5" x2="134.5" y2="457.5"/></g>
<g stroke="#e3252d" stroke-width="1.3" opacity="0.55"><line x1="150.8" y1="471.9" x2="150.8" y2="460.4"/><line x1="148.0" y1="460.4" x2="153.6" y2="460.4"/><line x1="148.0" y1="471.9" x2="153.6" y2="471.9"/></g>
<g stroke="#e3252d" stroke-width="1.3" opacity="0.55"><line x1="170.0" y1="486.0" x2="170.0" y2="476.4"/><line x1="167.2" y1="476.4" x2="172.8" y2="476.4"/><line x1="167.2" y1="486.0" x2="172.8" y2="486.0"/></g>
<g stroke="#e3252d" stroke-width="1.3" opacity="0.55"><line x1="198.7" y1="486.0" x2="198.7" y2="470.0"/><line x1="195.9" y1="470.0" x2="201.5" y2="470.0"/><line x1="195.9" y1="486.0" x2="201.5" y2="486.0"/></g>
<g stroke="#e3252d" stroke-width="1.3" opacity="0.55"><line x1="217.9" y1="488.9" x2="217.9" y2="472.9"/><line x1="215.1" y1="472.9" x2="220.7" y2="472.9"/><line x1="215.1" y1="488.9" x2="220.7" y2="488.9"/></g>
<g stroke="#e3252d" stroke-width="1.3" opacity="0.55"><line x1="237.0" y1="458.5" x2="237.0" y2="448.9"/><line x1="234.2" y1="448.9" x2="239.8" y2="448.9"/><line x1="234.2" y1="458.5" x2="239.8" y2="458.5"/></g>
<polygon points="61.9,451.5 67.3,451.5 64.6,446.5" fill="#e3252d"/>
<polygon points="100.2,464.3 105.6,464.3 102.9,459.3" fill="#e3252d"/>
<polygon points="128.9,453.7 134.4,453.7 131.7,448.8" fill="#e3252d"/>
<polygon points="148.1,468.1 153.5,468.1 150.8,463.2" fill="#e3252d"/>
<polygon points="167.3,483.2 172.7,483.2 170.0,478.2" fill="#e3252d"/>
<polygon points="196.0,480.0 201.4,480.0 198.7,475.0" fill="#e3252d"/>
<polygon points="215.2,482.8 220.6,482.8 217.9,477.9" fill="#e3252d"/>
<polygon points="234.3,455.6 239.8,455.6 237.0,450.7" fill="#e3252d"/>
<polyline points="64.6,449.5 102.9,455.3 131.7,454.3 150.8,466.1 170.0,479.3 198.7,478.0 217.9,462.9 237.0,456.5" fill="none" stroke="#6b2c88" stroke-width="1.9" stroke-linejoin="round"/>
<g stroke="#6b2c88" stroke-width="1.3" opacity="0.55"><line x1="102.9" y1="458.5" x2="102.9" y2="452.1"/><line x1="100.1" y1="452.1" x2="105.7" y2="452.1"/><line x1="100.1" y1="458.5" x2="105.7" y2="458.5"/></g>
<g stroke="#6b2c88" stroke-width="1.3" opacity="0.55"><line x1="131.7" y1="460.7" x2="131.7" y2="447.9"/><line x1="128.9" y1="447.9" x2="134.5" y2="447.9"/><line x1="128.9" y1="460.7" x2="134.5" y2="460.7"/></g>
<g stroke="#6b2c88" stroke-width="1.3" opacity="0.55"><line x1="150.8" y1="472.5" x2="150.8" y2="459.7"/><line x1="148.0" y1="459.7" x2="153.6" y2="459.7"/><line x1="148.0" y1="472.5" x2="153.6" y2="472.5"/></g>
<g stroke="#6b2c88" stroke-width="1.3" opacity="0.55"><line x1="170.0" y1="483.4" x2="170.0" y2="475.1"/><line x1="167.2" y1="475.1" x2="172.8" y2="475.1"/><line x1="167.2" y1="483.4" x2="172.8" y2="483.4"/></g>
<g stroke="#6b2c88" stroke-width="1.3" opacity="0.55"><line x1="198.7" y1="482.8" x2="198.7" y2="473.2"/><line x1="195.9" y1="473.2" x2="201.5" y2="473.2"/><line x1="195.9" y1="482.8" x2="201.5" y2="482.8"/></g>
<g stroke="#6b2c88" stroke-width="1.3" opacity="0.55"><line x1="217.9" y1="470.9" x2="217.9" y2="454.9"/><line x1="215.1" y1="454.9" x2="220.7" y2="454.9"/><line x1="215.1" y1="470.9" x2="220.7" y2="470.9"/></g>
<g stroke="#6b2c88" stroke-width="1.3" opacity="0.55"><line x1="237.0" y1="464.5" x2="237.0" y2="448.5"/><line x1="234.2" y1="448.5" x2="239.8" y2="448.5"/><line x1="234.2" y1="464.5" x2="239.8" y2="464.5"/></g>
<polygon points="61.9,447.5 67.3,447.5 64.6,452.5" fill="#6b2c88"/>
<polygon points="100.2,453.3 105.6,453.3 102.9,458.2" fill="#6b2c88"/>
<polygon points="128.9,452.3 134.4,452.3 131.7,457.3" fill="#6b2c88"/>
<polygon points="148.1,464.2 153.5,464.2 150.8,469.1" fill="#6b2c88"/>
<polygon points="167.3,477.3 172.7,477.3 170.0,482.2" fill="#6b2c88"/>
<polygon points="196.0,476.0 201.4,476.0 198.7,480.9" fill="#6b2c88"/>
<polygon points="215.2,461.0 220.6,461.0 217.9,465.9" fill="#6b2c88"/>
<polygon points="234.3,454.6 239.8,454.6 237.0,459.5" fill="#6b2c88"/>
<line x1="72.2" y1="478.5" x2="83.5" y2="478.5" stroke="#0d0d0d" stroke-width="1.5"/>
<circle cx="77.8" cy="478.5" r="2.03" fill="#0d0d0d"/>
<text class="s" x="86.8" y="481.2" font-size="7.6" fill="#1a1a1a" font-family="'Liberation Sans', sans-serif">Vehicle (<tspan font-style="italic">n</tspan> = 6)</text>
<line x1="72.2" y1="487.1" x2="83.5" y2="487.1" stroke="#3b5aa6" stroke-width="1.5"/>
<rect x="75.9" y="485.2" width="3.9" height="3.9" fill="#3b5aa6"/>
<text class="s" x="86.8" y="489.8" font-size="7.6" fill="#1a1a1a" font-family="'Liberation Sans', sans-serif">R428 (<tspan font-style="italic">n</tspan> = 6)</text>
<line x1="72.2" y1="495.7" x2="83.5" y2="495.7" stroke="#e3252d" stroke-width="1.5"/>
<polygon points="75.4,497.4 80.2,497.4 77.8,493.1" fill="#e3252d"/>
<text class="s" x="86.8" y="498.4" font-size="7.6" fill="#1a1a1a" font-family="'Liberation Sans', sans-serif">DTX (<tspan font-style="italic">n</tspan> = 6)</text>
<line x1="72.2" y1="504.3" x2="83.5" y2="504.3" stroke="#6b2c88" stroke-width="1.5"/>
<polygon points="75.4,502.6 80.2,502.6 77.8,506.9" fill="#6b2c88"/>
<text class="s" x="86.8" y="507.0" font-size="7.6" fill="#1a1a1a" font-family="'Liberation Sans', sans-serif">DTX + R428 (<tspan font-style="italic">n</tspan> = 8)</text>
<path d="M309.6,208.4 V336.3 H501.0" fill="none" stroke="#4a4a4a" stroke-width="1.2"/>
<line x1="306.2" y1="336.3" x2="309.6" y2="336.3" stroke="#4a4a4a" stroke-width="1.1"/>
<text class="s" x="303.5" y="339.8" font-size="9.8" text-anchor="end" fill="#1a1a1a" font-family="'Liberation Sans', sans-serif">0</text>
<line x1="306.2" y1="305.1" x2="309.6" y2="305.1" stroke="#4a4a4a" stroke-width="1.1"/>
<text class="s" x="303.5" y="308.6" font-size="9.8" text-anchor="end" fill="#1a1a1a" font-family="'Liberation Sans', sans-serif">200</text>
<line x1="306.2" y1="273.9" x2="309.6" y2="273.9" stroke="#4a4a4a" stroke-width="1.1"/>
<text class="s" x="303.5" y="277.4" font-size="9.8" text-anchor="end" fill="#1a1a1a" font-family="'Liberation Sans', sans-serif">400</text>
<line x1="306.2" y1="242.8" x2="309.6" y2="242.8" stroke="#4a4a4a" stroke-width="1.1"/>
<text class="s" x="303.5" y="246.3" font-size="9.8" text-anchor="end" fill="#1a1a1a" font-family="'Liberation Sans', sans-serif">600</text>
<line x1="306.2" y1="211.6" x2="309.6" y2="211.6" stroke="#4a4a4a" stroke-width="1.1"/>
<text class="s" x="303.5" y="215.1" font-size="9.8" text-anchor="end" fill="#1a1a1a" font-family="'Liberation Sans', sans-serif">800</text>
<line x1="309.6" y1="336.3" x2="309.6" y2="339.5" stroke="#4a4a4a" stroke-width="1.1"/>
<text class="s" x="309.6" y="348.9" font-size="9.8" text-anchor="middle" fill="#1a1a1a" font-family="'Liberation Sans', sans-serif">0</text>
<line x1="332.1" y1="336.3" x2="332.1" y2="339.5" stroke="#4a4a4a" stroke-width="1.1"/>
<text class="s" x="332.1" y="348.9" font-size="9.8" text-anchor="middle" fill="#1a1a1a" font-family="'Liberation Sans', sans-serif">2</text>
<line x1="354.6" y1="336.3" x2="354.6" y2="339.5" stroke="#4a4a4a" stroke-width="1.1"/>
<text class="s" x="354.6" y="348.9" font-size="9.8" text-anchor="middle" fill="#1a1a1a" font-family="'Liberation Sans', sans-serif">4</text>
<line x1="377.2" y1="336.3" x2="377.2" y2="339.5" stroke="#4a4a4a" stroke-width="1.1"/>
<text class="s" x="377.2" y="348.9" font-size="9.8" text-anchor="middle" fill="#1a1a1a" font-family="'Liberation Sans', sans-serif">6</text>
<line x1="399.7" y1="336.3" x2="399.7" y2="339.5" stroke="#4a4a4a" stroke-width="1.1"/>
<text class="s" x="399.7" y="348.9" font-size="9.8" text-anchor="middle" fill="#1a1a1a" font-family="'Liberation Sans', sans-serif">8</text>
<line x1="422.2" y1="336.3" x2="422.2" y2="339.5" stroke="#4a4a4a" stroke-width="1.1"/>
<text class="s" x="422.2" y="348.9" font-size="9.8" text-anchor="middle" fill="#1a1a1a" font-family="'Liberation Sans', sans-serif">10</text>
<line x1="444.7" y1="336.3" x2="444.7" y2="339.5" stroke="#4a4a4a" stroke-width="1.1"/>
<text class="s" x="444.7" y="348.9" font-size="9.8" text-anchor="middle" fill="#1a1a1a" font-family="'Liberation Sans', sans-serif">12</text>
<line x1="467.2" y1="336.3" x2="467.2" y2="339.5" stroke="#4a4a4a" stroke-width="1.1"/>
<text class="s" x="467.2" y="348.9" font-size="9.8" text-anchor="middle" fill="#1a1a1a" font-family="'Liberation Sans', sans-serif">14</text>
<line x1="489.8" y1="336.3" x2="489.8" y2="339.5" stroke="#4a4a4a" stroke-width="1.1"/>
<text class="s" x="489.8" y="348.9" font-size="9.8" text-anchor="middle" fill="#1a1a1a" font-family="'Liberation Sans', sans-serif">16</text>
<polyline points="309.6,311.7 332.1,303.1 365.9,294.8 388.4,277.5 410.9,262.4 444.7,254.5 467.2,241.2 489.8,234.5" fill="none" stroke="#0d0d0d" stroke-width="1.9" stroke-linejoin="round"/>
<g stroke="#0d0d0d" stroke-width="1.1" opacity="0.9"><line x1="309.6" y1="311.7" x2="309.6" y2="309.3"/><line x1="306.8" y1="309.3" x2="312.4" y2="309.3"/></g>
<g stroke="#0d0d0d" stroke-width="1.1" opacity="0.9"><line x1="332.1" y1="303.1" x2="332.1" y2="300.8"/><line x1="329.3" y1="300.8" x2="334.9" y2="300.8"/></g>
<g stroke="#0d0d0d" stroke-width="1.1" opacity="0.9"><line x1="365.9" y1="294.8" x2="365.9" y2="292.5"/><line x1="363.1" y1="292.5" x2="368.7" y2="292.5"/></g>
<g stroke="#0d0d0d" stroke-width="1.1" opacity="0.9"><line x1="388.4" y1="277.5" x2="388.4" y2="273.6"/><line x1="385.6" y1="273.6" x2="391.2" y2="273.6"/></g>
<g stroke="#0d0d0d" stroke-width="1.1" opacity="0.9"><line x1="410.9" y1="262.4" x2="410.9" y2="254.0"/><line x1="408.1" y1="254.0" x2="413.7" y2="254.0"/></g>
<g stroke="#0d0d0d" stroke-width="1.1" opacity="0.9"><line x1="444.7" y1="254.5" x2="444.7" y2="248.2"/><line x1="441.9" y1="248.2" x2="447.5" y2="248.2"/></g>
<g stroke="#0d0d0d" stroke-width="1.1" opacity="0.9"><line x1="467.2" y1="241.2" x2="467.2" y2="234.2"/><line x1="464.4" y1="234.2" x2="470.0" y2="234.2"/></g>
<g stroke="#0d0d0d" stroke-width="1.1" opacity="0.9"><line x1="489.8" y1="234.5" x2="489.8" y2="218.9"/><line x1="487.0" y1="218.9" x2="492.6" y2="218.9"/></g>
<circle cx="309.6" cy="311.7" r="2.70" fill="#0d0d0d"/>
<circle cx="332.1" cy="303.1" r="2.70" fill="#0d0d0d"/>
<circle cx="365.9" cy="294.8" r="2.70" fill="#0d0d0d"/>
<circle cx="388.4" cy="277.5" r="2.70" fill="#0d0d0d"/>
<circle cx="410.9" cy="262.4" r="2.70" fill="#0d0d0d"/>
<circle cx="444.7" cy="254.5" r="2.70" fill="#0d0d0d"/>
<circle cx="467.2" cy="241.2" r="2.70" fill="#0d0d0d"/>
<circle cx="489.8" cy="234.5" r="2.70" fill="#0d0d0d"/>
<polyline points="309.6,315.7 332.1,312.3 365.9,305.0 388.4,286.3 410.9,276.9 444.7,251.8 467.2,241.2 489.8,229.8" fill="none" stroke="#3b5aa6" stroke-width="1.9" stroke-linejoin="round"/>
<g stroke="#3b5aa6" stroke-width="1.1" opacity="0.9"><line x1="309.6" y1="315.7" x2="309.6" y2="314.2"/><line x1="306.8" y1="314.2" x2="312.4" y2="314.2"/></g>
<g stroke="#3b5aa6" stroke-width="1.1" opacity="0.9"><line x1="332.1" y1="312.3" x2="332.1" y2="310.4"/><line x1="329.3" y1="310.4" x2="334.9" y2="310.4"/></g>
<g stroke="#3b5aa6" stroke-width="1.1" opacity="0.9"><line x1="365.9" y1="305.0" x2="365.9" y2="302.6"/><line x1="363.1" y1="302.6" x2="368.7" y2="302.6"/></g>
<g stroke="#3b5aa6" stroke-width="1.1" opacity="0.9"><line x1="388.4" y1="286.3" x2="388.4" y2="283.1"/><line x1="385.6" y1="283.1" x2="391.2" y2="283.1"/></g>
<g stroke="#3b5aa6" stroke-width="1.1" opacity="0.9"><line x1="410.9" y1="276.9" x2="410.9" y2="273.8"/><line x1="408.1" y1="273.8" x2="413.7" y2="273.8"/></g>
<g stroke="#3b5aa6" stroke-width="1.1" opacity="0.9"><line x1="444.7" y1="251.8" x2="444.7" y2="248.7"/><line x1="441.9" y1="248.7" x2="447.5" y2="248.7"/></g>
<g stroke="#3b5aa6" stroke-width="1.1" opacity="0.9"><line x1="467.2" y1="241.2" x2="467.2" y2="238.1"/><line x1="464.4" y1="238.1" x2="470.0" y2="238.1"/></g>
<g stroke="#3b5aa6" stroke-width="1.1" opacity="0.9"><line x1="489.8" y1="229.8" x2="489.8" y2="226.7"/><line x1="487.0" y1="226.7" x2="492.6" y2="226.7"/></g>
<rect x="307.0" y="313.1" width="5.2" height="5.2" fill="#3b5aa6"/>
<rect x="329.5" y="309.7" width="5.2" height="5.2" fill="#3b5aa6"/>
<rect x="363.3" y="302.4" width="5.2" height="5.2" fill="#3b5aa6"/>
<rect x="385.8" y="283.7" width="5.2" height="5.2" fill="#3b5aa6"/>
<rect x="408.3" y="274.3" width="5.2" height="5.2" fill="#3b5aa6"/>
<rect x="442.1" y="249.2" width="5.2" height="5.2" fill="#3b5aa6"/>
<rect x="464.6" y="238.6" width="5.2" height="5.2" fill="#3b5aa6"/>
<rect x="487.2" y="227.2" width="5.2" height="5.2" fill="#3b5aa6"/>
<polyline points="309.6,310.0 332.1,305.0 365.9,289.2 388.4,273.5 410.9,275.0 444.7,254.9 467.2,222.6 489.8,226.7" fill="none" stroke="#e3252d" stroke-width="1.9" stroke-linejoin="round"/>
<g stroke="#d8404a" stroke-width="1.1" opacity="0.9"><line x1="309.6" y1="310.0" x2="309.6" y2="306.8"/><line x1="306.8" y1="306.8" x2="312.4" y2="306.8"/></g>
<g stroke="#d8404a" stroke-width="1.1" opacity="0.9"><line x1="332.1" y1="305.0" x2="332.1" y2="302.6"/><line x1="329.3" y1="302.6" x2="334.9" y2="302.6"/></g>
<g stroke="#d8404a" stroke-width="1.1" opacity="0.9"><line x1="365.9" y1="289.2" x2="365.9" y2="282.4"/><line x1="363.1" y1="282.4" x2="368.7" y2="282.4"/></g>
<g stroke="#d8404a" stroke-width="1.1" opacity="0.9"><line x1="388.4" y1="273.5" x2="388.4" y2="267.2"/><line x1="385.6" y1="267.2" x2="391.2" y2="267.2"/></g>
<g stroke="#d8404a" stroke-width="1.1" opacity="0.9"><line x1="410.9" y1="275.0" x2="410.9" y2="270.7"/><line x1="408.1" y1="270.7" x2="413.7" y2="270.7"/></g>
<g stroke="#d8404a" stroke-width="1.1" opacity="0.9"><line x1="444.7" y1="254.9" x2="444.7" y2="248.7"/><line x1="441.9" y1="248.7" x2="447.5" y2="248.7"/></g>
<g stroke="#d8404a" stroke-width="1.1" opacity="0.9"><line x1="467.2" y1="222.6" x2="467.2" y2="211.1"/><line x1="464.4" y1="211.1" x2="470.0" y2="211.1"/></g>
<g stroke="#d8404a" stroke-width="1.1" opacity="0.9"><line x1="489.8" y1="226.7" x2="489.8" y2="215.0"/><line x1="487.0" y1="215.0" x2="492.6" y2="215.0"/></g>
<polygon points="306.4,312.3 312.8,312.3 309.6,306.5" fill="#e3252d"/>
<polygon points="328.9,307.3 335.3,307.3 332.1,301.5" fill="#e3252d"/>
<polygon points="362.7,291.5 369.1,291.5 365.9,285.7" fill="#e3252d"/>
<polygon points="385.2,275.8 391.6,275.8 388.4,270.0" fill="#e3252d"/>
<polygon points="407.7,277.4 414.1,277.4 410.9,271.6" fill="#e3252d"/>
<polygon points="441.5,257.2 447.9,257.2 444.7,251.4" fill="#e3252d"/>
<polygon points="464.0,225.0 470.4,225.0 467.2,219.2" fill="#e3252d"/>
<polygon points="486.6,229.0 493.0,229.0 489.8,223.2" fill="#e3252d"/>
<polyline points="309.6,315.7 332.1,315.7 365.9,307.1 388.4,303.9 410.9,290.8 444.7,282.2 467.2,284.2 489.8,286.1" fill="none" stroke="#6b2c88" stroke-width="1.9" stroke-linejoin="round"/>
<g stroke="#8a7394" stroke-width="1.1" opacity="0.9"><line x1="309.6" y1="317.3" x2="309.6" y2="314.2"/><line x1="306.8" y1="314.2" x2="312.4" y2="314.2"/><line x1="306.8" y1="317.3" x2="312.4" y2="317.3"/></g>
<g stroke="#8a7394" stroke-width="1.1" opacity="0.9"><line x1="332.1" y1="317.3" x2="332.1" y2="314.2"/><line x1="329.3" y1="314.2" x2="334.9" y2="314.2"/><line x1="329.3" y1="317.3" x2="334.9" y2="317.3"/></g>
<g stroke="#8a7394" stroke-width="1.1" opacity="0.9"><line x1="365.9" y1="311.8" x2="365.9" y2="302.5"/><line x1="363.1" y1="302.5" x2="368.7" y2="302.5"/><line x1="363.1" y1="311.8" x2="368.7" y2="311.8"/></g>
<g stroke="#8a7394" stroke-width="1.1" opacity="0.9"><line x1="388.4" y1="308.9" x2="388.4" y2="298.9"/><line x1="385.6" y1="298.9" x2="391.2" y2="298.9"/><line x1="385.6" y1="308.9" x2="391.2" y2="308.9"/></g>
<g stroke="#8a7394" stroke-width="1.1" opacity="0.9"><line x1="410.9" y1="298.3" x2="410.9" y2="283.3"/><line x1="408.1" y1="283.3" x2="413.7" y2="283.3"/><line x1="408.1" y1="298.3" x2="413.7" y2="298.3"/></g>
<g stroke="#8a7394" stroke-width="1.1" opacity="0.9"><line x1="444.7" y1="286.9" x2="444.7" y2="277.5"/><line x1="441.9" y1="277.5" x2="447.5" y2="277.5"/><line x1="441.9" y1="286.9" x2="447.5" y2="286.9"/></g>
<g stroke="#8a7394" stroke-width="1.1" opacity="0.9"><line x1="467.2" y1="295.1" x2="467.2" y2="273.3"/><line x1="464.4" y1="273.3" x2="470.0" y2="273.3"/><line x1="464.4" y1="295.1" x2="470.0" y2="295.1"/></g>
<g stroke="#8a7394" stroke-width="1.1" opacity="0.9"><line x1="489.8" y1="300.9" x2="489.8" y2="271.3"/><line x1="487.0" y1="271.3" x2="492.6" y2="271.3"/><line x1="487.0" y1="300.9" x2="492.6" y2="300.9"/></g>
<polygon points="306.4,313.4 312.8,313.4 309.6,319.2" fill="#6b2c88"/>
<polygon points="328.9,313.4 335.3,313.4 332.1,319.2" fill="#6b2c88"/>
<polygon points="362.7,304.8 369.1,304.8 365.9,310.6" fill="#6b2c88"/>
<polygon points="385.2,301.6 391.6,301.6 388.4,307.4" fill="#6b2c88"/>
<polygon points="407.7,288.5 414.1,288.5 410.9,294.3" fill="#6b2c88"/>
<polygon points="441.5,279.9 447.9,279.9 444.7,285.7" fill="#6b2c88"/>
<polygon points="464.0,281.9 470.4,281.9 467.2,287.7" fill="#6b2c88"/>
<polygon points="486.6,283.8 493.0,283.8 489.8,289.6" fill="#6b2c88"/>
<line x1="317.8" y1="217.3" x2="329.9" y2="217.3" stroke="#0d0d0d" stroke-width="1.5"/>
<circle cx="323.9" cy="217.3" r="2.03" fill="#0d0d0d"/>
<text class="s" x="332.1" y="220.0" font-size="7.5" fill="#1a1a1a" font-family="'Liberation Sans', sans-serif">Vehicle (<tspan font-style="italic">n</tspan> = 8)</text>
<line x1="317.8" y1="225.9" x2="329.9" y2="225.9" stroke="#3b5aa6" stroke-width="1.5"/>
<rect x="321.9" y="223.9" width="3.9" height="3.9" fill="#3b5aa6"/>
<text class="s" x="332.1" y="228.6" font-size="7.5" fill="#1a1a1a" font-family="'Liberation Sans', sans-serif">R428 (<tspan font-style="italic">n</tspan> = 9)</text>
<line x1="317.8" y1="234.4" x2="329.9" y2="234.4" stroke="#e3252d" stroke-width="1.5"/>
<polygon points="321.5,236.1 326.2,236.1 323.9,231.8" fill="#e3252d"/>
<text class="s" x="332.1" y="237.1" font-size="7.5" fill="#1a1a1a" font-family="'Liberation Sans', sans-serif">DTX (<tspan font-style="italic">n</tspan> = 8)</text>
<line x1="317.8" y1="243.0" x2="329.9" y2="243.0" stroke="#6b2c88" stroke-width="1.5"/>
<polygon points="321.5,241.2 326.2,241.2 323.9,245.6" fill="#6b2c88"/>
<text class="s" x="332.1" y="245.7" font-size="7.5" fill="#1a1a1a" font-family="'Liberation Sans', sans-serif">DTX + R428 (<tspan font-style="italic">n</tspan> = 9)</text>
<path d="M309.8,384.7 V512.3 H501.2" fill="none" stroke="#4a4a4a" stroke-width="1.2"/>
<line x1="306.4" y1="512.3" x2="309.8" y2="512.3" stroke="#4a4a4a" stroke-width="1.1"/>
<text class="s" x="303.7" y="515.8" font-size="9.8" text-anchor="end" fill="#1a1a1a" font-family="'Liberation Sans', sans-serif">−20</text>
<line x1="306.4" y1="480.4" x2="309.8" y2="480.4" stroke="#4a4a4a" stroke-width="1.1"/>
<text class="s" x="303.7" y="483.9" font-size="9.8" text-anchor="end" fill="#1a1a1a" font-family="'Liberation Sans', sans-serif">−10</text>
<line x1="306.4" y1="448.5" x2="309.8" y2="448.5" stroke="#4a4a4a" stroke-width="1.1"/>
<text class="s" x="303.7" y="452.0" font-size="9.8" text-anchor="end" fill="#1a1a1a" font-family="'Liberation Sans', sans-serif">0</text>
<line x1="306.4" y1="416.6" x2="309.8" y2="416.6" stroke="#4a4a4a" stroke-width="1.1"/>
<text class="s" x="303.7" y="420.1" font-size="9.8" text-anchor="end" fill="#1a1a1a" font-family="'Liberation Sans', sans-serif">10</text>
<line x1="306.4" y1="384.7" x2="309.8" y2="384.7" stroke="#4a4a4a" stroke-width="1.1"/>
<text class="s" x="303.7" y="388.2" font-size="9.8" text-anchor="end" fill="#1a1a1a" font-family="'Liberation Sans', sans-serif">20</text>
<line x1="309.8" y1="512.3" x2="309.8" y2="515.5" stroke="#4a4a4a" stroke-width="1.1"/>
<text class="s" x="309.8" y="524.9" font-size="9.8" text-anchor="middle" fill="#1a1a1a" font-family="'Liberation Sans', sans-serif">0</text>
<line x1="332.3" y1="512.3" x2="332.3" y2="515.5" stroke="#4a4a4a" stroke-width="1.1"/>
<text class="s" x="332.3" y="524.9" font-size="9.8" text-anchor="middle" fill="#1a1a1a" font-family="'Liberation Sans', sans-serif">2</text>
<line x1="354.8" y1="512.3" x2="354.8" y2="515.5" stroke="#4a4a4a" stroke-width="1.1"/>
<text class="s" x="354.8" y="524.9" font-size="9.8" text-anchor="middle" fill="#1a1a1a" font-family="'Liberation Sans', sans-serif">4</text>
<line x1="377.4" y1="512.3" x2="377.4" y2="515.5" stroke="#4a4a4a" stroke-width="1.1"/>
<text class="s" x="377.4" y="524.9" font-size="9.8" text-anchor="middle" fill="#1a1a1a" font-family="'Liberation Sans', sans-serif">6</text>
<line x1="399.9" y1="512.3" x2="399.9" y2="515.5" stroke="#4a4a4a" stroke-width="1.1"/>
<text class="s" x="399.9" y="524.9" font-size="9.8" text-anchor="middle" fill="#1a1a1a" font-family="'Liberation Sans', sans-serif">8</text>
<line x1="422.4" y1="512.3" x2="422.4" y2="515.5" stroke="#4a4a4a" stroke-width="1.1"/>
<text class="s" x="422.4" y="524.9" font-size="9.8" text-anchor="middle" fill="#1a1a1a" font-family="'Liberation Sans', sans-serif">10</text>
<line x1="444.9" y1="512.3" x2="444.9" y2="515.5" stroke="#4a4a4a" stroke-width="1.1"/>
<text class="s" x="444.9" y="524.9" font-size="9.8" text-anchor="middle" fill="#1a1a1a" font-family="'Liberation Sans', sans-serif">12</text>
<line x1="467.4" y1="512.3" x2="467.4" y2="515.5" stroke="#4a4a4a" stroke-width="1.1"/>
<text class="s" x="467.4" y="524.9" font-size="9.8" text-anchor="middle" fill="#1a1a1a" font-family="'Liberation Sans', sans-serif">14</text>
<line x1="490.0" y1="512.3" x2="490.0" y2="515.5" stroke="#4a4a4a" stroke-width="1.1"/>
<text class="s" x="490.0" y="524.9" font-size="9.8" text-anchor="middle" fill="#1a1a1a" font-family="'Liberation Sans', sans-serif">16</text>
<line x1="309.8" y1="448.5" x2="501.2" y2="448.5" stroke="#333" stroke-width="0.9" stroke-dasharray="1.5,1.5"/>
<polyline points="309.8,448.5 366.1,451.7 388.6,453.0 411.1,449.5 444.9,445.3 490.0,439.2" fill="none" stroke="#0d0d0d" stroke-width="1.9" stroke-linejoin="round"/>
<g stroke="#0d0d0d" stroke-width="1.3" opacity="0.55"><line x1="366.1" y1="451.7" x2="366.1" y2="450.1"/><line x1="363.3" y1="450.1" x2="368.9" y2="450.1"/></g>
<g stroke="#0d0d0d" stroke-width="1.3" opacity="0.55"><line x1="388.6" y1="453.0" x2="388.6" y2="451.4"/><line x1="385.8" y1="451.4" x2="391.4" y2="451.4"/></g>
<g stroke="#0d0d0d" stroke-width="1.3" opacity="0.55"><line x1="411.1" y1="449.5" x2="411.1" y2="446.3"/><line x1="408.3" y1="446.3" x2="413.9" y2="446.3"/></g>
<g stroke="#0d0d0d" stroke-width="1.3" opacity="0.55"><line x1="444.9" y1="445.3" x2="444.9" y2="443.4"/><line x1="442.1" y1="443.4" x2="447.7" y2="443.4"/></g>
<g stroke="#0d0d0d" stroke-width="1.3" opacity="0.55"><line x1="490.0" y1="439.2" x2="490.0" y2="435.4"/><line x1="487.2" y1="435.4" x2="492.8" y2="435.4"/></g>
<circle cx="309.8" cy="448.5" r="2.29" fill="#0d0d0d"/>
<circle cx="366.1" cy="451.7" r="2.29" fill="#0d0d0d"/>
<circle cx="388.6" cy="453.0" r="2.29" fill="#0d0d0d"/>
<circle cx="411.1" cy="449.5" r="2.29" fill="#0d0d0d"/>
<circle cx="444.9" cy="445.3" r="2.29" fill="#0d0d0d"/>
<circle cx="490.0" cy="439.2" r="2.29" fill="#0d0d0d"/>
<polyline points="309.8,448.5 366.1,453.9 388.6,448.2 411.1,456.5 444.9,448.2 490.0,444.7" fill="none" stroke="#3b5aa6" stroke-width="1.9" stroke-linejoin="round"/>
<g stroke="#3b5aa6" stroke-width="1.3" opacity="0.55"><line x1="366.1" y1="453.9" x2="366.1" y2="452.3"/><line x1="363.3" y1="452.3" x2="368.9" y2="452.3"/></g>
<g stroke="#3b5aa6" stroke-width="1.3" opacity="0.55"><line x1="388.6" y1="448.2" x2="388.6" y2="446.3"/><line x1="385.8" y1="446.3" x2="391.4" y2="446.3"/></g>
<g stroke="#3b5aa6" stroke-width="1.3" opacity="0.55"><line x1="411.1" y1="456.5" x2="411.1" y2="453.9"/><line x1="408.3" y1="453.9" x2="413.9" y2="453.9"/></g>
<g stroke="#3b5aa6" stroke-width="1.3" opacity="0.55"><line x1="444.9" y1="448.2" x2="444.9" y2="446.3"/><line x1="442.1" y1="446.3" x2="447.7" y2="446.3"/></g>
<g stroke="#3b5aa6" stroke-width="1.3" opacity="0.55"><line x1="490.0" y1="444.7" x2="490.0" y2="440.8"/><line x1="487.2" y1="440.8" x2="492.8" y2="440.8"/></g>
<rect x="307.6" y="446.3" width="4.4" height="4.4" fill="#3b5aa6"/>
<rect x="363.9" y="451.7" width="4.4" height="4.4" fill="#3b5aa6"/>
<rect x="386.4" y="446.0" width="4.4" height="4.4" fill="#3b5aa6"/>
<rect x="408.9" y="454.3" width="4.4" height="4.4" fill="#3b5aa6"/>
<rect x="442.7" y="446.0" width="4.4" height="4.4" fill="#3b5aa6"/>
<rect x="487.8" y="442.5" width="4.4" height="4.4" fill="#3b5aa6"/>
<polyline points="309.8,448.5 366.1,463.5 388.6,455.2 411.1,468.6 444.9,465.4 490.0,472.7" fill="none" stroke="#e3252d" stroke-width="1.9" stroke-linejoin="round"/>
<g stroke="#e3252d" stroke-width="1.3" opacity="0.55"><line x1="366.1" y1="463.5" x2="366.1" y2="460.9"/><line x1="363.3" y1="460.9" x2="368.9" y2="460.9"/></g>
<g stroke="#e3252d" stroke-width="1.3" opacity="0.55"><line x1="388.6" y1="455.2" x2="388.6" y2="452.6"/><line x1="385.8" y1="452.6" x2="391.4" y2="452.6"/></g>
<g stroke="#e3252d" stroke-width="1.3" opacity="0.55"><line x1="411.1" y1="468.6" x2="411.1" y2="463.8"/><line x1="408.3" y1="463.8" x2="413.9" y2="463.8"/></g>
<g stroke="#e3252d" stroke-width="1.3" opacity="0.55"><line x1="444.9" y1="465.4" x2="444.9" y2="460.3"/><line x1="442.1" y1="460.3" x2="447.7" y2="460.3"/></g>
<g stroke="#e3252d" stroke-width="1.3" opacity="0.55"><line x1="490.0" y1="472.7" x2="490.0" y2="466.4"/><line x1="487.2" y1="466.4" x2="492.8" y2="466.4"/></g>
<polygon points="307.1,450.5 312.5,450.5 309.8,445.5" fill="#e3252d"/>
<polygon points="363.4,465.5 368.8,465.5 366.1,460.5" fill="#e3252d"/>
<polygon points="385.9,457.2 391.3,457.2 388.6,452.2" fill="#e3252d"/>
<polygon points="408.4,470.6 413.9,470.6 411.1,465.6" fill="#e3252d"/>
<polygon points="442.2,467.4 447.6,467.4 444.9,462.4" fill="#e3252d"/>
<polygon points="487.2,474.7 492.7,474.7 490.0,469.8" fill="#e3252d"/>
<polyline points="309.8,448.5 366.1,467.0 388.6,464.4 411.1,477.5 444.9,483.0 490.0,483.9" fill="none" stroke="#6b2c88" stroke-width="1.9" stroke-linejoin="round"/>
<g stroke="#6b2c88" stroke-width="1.3" opacity="0.55"><line x1="366.1" y1="469.6" x2="366.1" y2="467.0"/><line x1="363.3" y1="469.6" x2="368.9" y2="469.6"/></g>
<g stroke="#6b2c88" stroke-width="1.3" opacity="0.55"><line x1="388.6" y1="467.0" x2="388.6" y2="464.4"/><line x1="385.8" y1="467.0" x2="391.4" y2="467.0"/></g>
<g stroke="#6b2c88" stroke-width="1.3" opacity="0.55"><line x1="411.1" y1="480.7" x2="411.1" y2="477.5"/><line x1="408.3" y1="480.7" x2="413.9" y2="480.7"/></g>
<g stroke="#6b2c88" stroke-width="1.3" opacity="0.55"><line x1="444.9" y1="486.1" x2="444.9" y2="483.0"/><line x1="442.1" y1="486.1" x2="447.7" y2="486.1"/></g>
<g stroke="#6b2c88" stroke-width="1.3" opacity="0.55"><line x1="490.0" y1="487.7" x2="490.0" y2="483.9"/><line x1="487.2" y1="487.7" x2="492.8" y2="487.7"/></g>
<polygon points="307.1,446.5 312.5,446.5 309.8,451.5" fill="#6b2c88"/>
<polygon points="363.4,465.0 368.8,465.0 366.1,470.0" fill="#6b2c88"/>
<polygon points="385.9,462.5 391.3,462.5 388.6,467.4" fill="#6b2c88"/>
<polygon points="408.4,475.6 413.9,475.6 411.1,480.5" fill="#6b2c88"/>
<polygon points="442.2,481.0 447.6,481.0 444.9,485.9" fill="#6b2c88"/>
<polygon points="487.2,481.9 492.7,481.9 490.0,486.9" fill="#6b2c88"/>
<line x1="318.7" y1="476.8" x2="330.4" y2="476.8" stroke="#0d0d0d" stroke-width="1.5"/>
<circle cx="324.5" cy="476.8" r="2.03" fill="#0d0d0d"/>
<text class="s" x="332.5" y="479.5" font-size="7.5" fill="#1a1a1a" font-family="'Liberation Sans', sans-serif">Vehicle (<tspan font-style="italic">n</tspan> = 8)</text>
<line x1="318.7" y1="485.4" x2="330.4" y2="485.4" stroke="#3b5aa6" stroke-width="1.5"/>
<rect x="322.6" y="483.5" width="3.9" height="3.9" fill="#3b5aa6"/>
<text class="s" x="332.5" y="488.1" font-size="7.5" fill="#1a1a1a" font-family="'Liberation Sans', sans-serif">R428 (<tspan font-style="italic">n</tspan> = 9)</text>
<line x1="318.7" y1="494.1" x2="330.4" y2="494.1" stroke="#e3252d" stroke-width="1.5"/>
<polygon points="322.1,495.8 326.9,495.8 324.5,491.5" fill="#e3252d"/>
<text class="s" x="332.5" y="496.8" font-size="7.5" fill="#1a1a1a" font-family="'Liberation Sans', sans-serif">DTX (<tspan font-style="italic">n</tspan> = 8)</text>
<line x1="318.7" y1="502.8" x2="330.4" y2="502.8" stroke="#6b2c88" stroke-width="1.5"/>
<polygon points="322.1,501.0 326.9,501.0 324.5,505.4" fill="#6b2c88"/>
<text class="s" x="332.5" y="505.4" font-size="7.5" fill="#1a1a1a" font-family="'Liberation Sans', sans-serif">DTX + R428 (<tspan font-style="italic">n</tspan> = 9)</text>
<rect x="0" y="0" width="520" height="1" fill="#6e6e6e"/><rect x="0" y="1" width="520" height="1" fill="#c4c4c4"/>
<rect x="0" y="0" width="1" height="569" fill="#6e6e6e"/><rect x="1" y="1" width="1" height="567" fill="#c0c0c0"/>
<rect x="518" y="0" width="1" height="569" fill="#a8a8a8"/><rect x="519" y="0" width="1" height="569" fill="#8a8a8a"/>
<rect x="0" y="567" width="520" height="1" fill="#bdbdbd"/><rect x="0" y="568" width="520" height="1" fill="#7a7a7a"/>
</svg></body></html>
